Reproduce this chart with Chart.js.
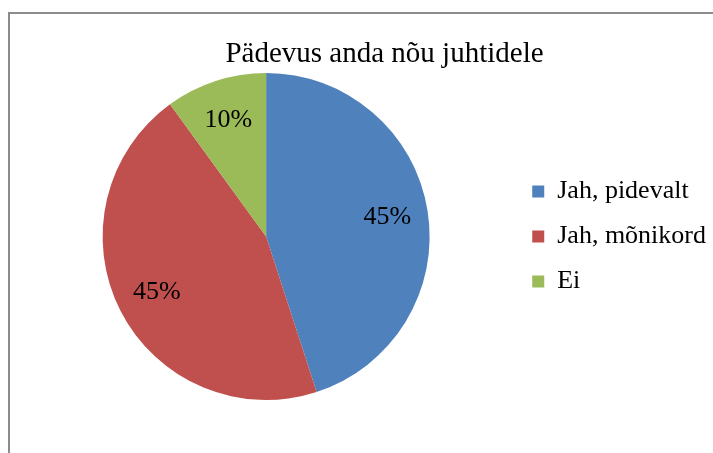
<!DOCTYPE html>
<html>
<head>
<meta charset="utf-8">
<script src="https://cdn.jsdelivr.net/npm/chart.js@4"></script>
<style>
    html, body { margin: 0; padding: 0; background: #fff; overflow: hidden; }
    #wrap { position: relative; width: 713px; height: 453px; overflow: hidden; }
    #frame {
        position: absolute; left: 8px; top: 12px; width: 720px; height: 460px;
        border-top: 2px solid #8c8c8c; border-left: 2px solid #8c8c8c;
    }
    canvas { position: absolute; left: 0; top: 0; }
</style>
</head>
<body>
<div id="wrap">
    <div id="frame"></div>
    <canvas id="pieChart" width="716" height="453"></canvas>
</div>
<script>
const chartTitle = 'Pädevus anda nõu juhtidele';
const categories = ['Jah, pidevalt', 'Jah, mõnikord', 'Ei'];
const shares = [45, 45, 10];
const sliceColors = ['#4F81BD', '#C0504D', '#9BBB59'];

const serif = '"Liberation Serif", "Times New Roman", serif';

// title sits centred over the whole frame, not over the pie
const titlePlugin = {
    id: 'frameTitle',
    afterDraw(chart) {
        const ctx = chart.ctx;
        ctx.save();
        ctx.font = '29px ' + serif;
        ctx.fillStyle = '#000';
        ctx.textAlign = 'center';
        ctx.textBaseline = 'alphabetic';
        ctx.fillText(chartTitle, 384.5, 62);
        ctx.restore();
    }
};

// percentage inside each slice
const percentLabels = {
    id: 'percentLabels',
    afterDatasetsDraw(chart) {
        const ctx = chart.ctx;
        const meta = chart.getDatasetMeta(0);
        const values = chart.data.datasets[0].data;
        const total = values.reduce((a, b) => a + b, 0);
        ctx.save();
        ctx.font = '26px ' + serif;
        ctx.fillStyle = '#000';
        ctx.textAlign = 'center';
        ctx.textBaseline = 'middle';
        meta.data.forEach((arc, i) => {
            const p = arc.getProps(['x', 'y', 'startAngle', 'endAngle', 'outerRadius'], true);
            const mid = (p.startAngle + p.endAngle) / 2;
            const r = p.outerRadius * 0.75;
            ctx.fillText(Math.round(values[i] / total * 100) + '%',
                p.x + Math.cos(mid) * r, p.y + Math.sin(mid) * r);
        });
        ctx.restore();
    }
};

const config = {
    type: 'pie',
    data: {
        labels: categories,
        datasets: [{
            data: shares,
            backgroundColor: sliceColors,
            borderWidth: 0
        }]
    },
    options: {
        responsive: false,
        animation: false,
        devicePixelRatio: 1,
        layout: {
            padding: { left: 19, top: 73, right: 0, bottom: 53 }
        },
        plugins: {
            title: { display: false },
            tooltip: { enabled: false },
            legend: {
                position: 'right',
                labels: {
                    font: { family: serif, size: 26 },
                    color: '#000',
                    boxWidth: 12,
                    boxHeight: 12,
                    padding: 19
                }
            }
        }
    },
    plugins: [titlePlugin, percentLabels]
};

new Chart(document.getElementById('pieChart'), config);
</script>
</body>
</html>
